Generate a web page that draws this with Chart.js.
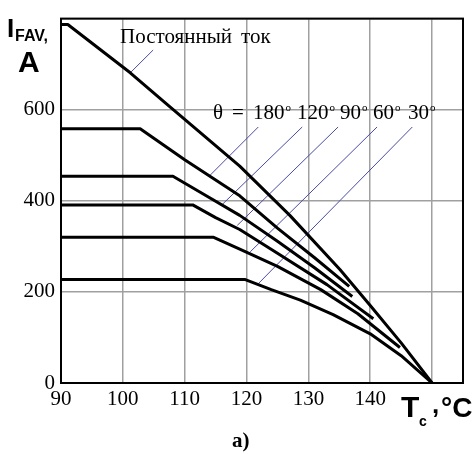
<!DOCTYPE html>
<html>
<head>
<meta charset="utf-8">
<script src="https://cdn.jsdelivr.net/npm/chart.js@4.4.0/dist/chart.umd.min.js"></script>
<style>
    body { margin: 0; background: #fff; }
    canvas { display: block; }
</style>
</head>
<body>
<canvas id="myChart" width="475" height="454"></canvas>
<script>
// case temperature (°C) and average current (A) for each curve
var dcT   = [90, 91.1, 101.2, 107.1, 118.9, 127.0, 135.1, 140, 145, 150];
var dcI   = [787, 787, 681, 612, 476, 368, 249, 170, 88, 0];
var a180T = [90, 102.8, 110, 118.9, 125, 131, 136.6];
var a180I = [558, 558, 490, 411, 340, 275, 212];
var a120T = [90, 108.1, 113, 118.9, 125, 131, 137.1];
var a120I = [454, 454, 415, 368, 311, 253, 190];
var a90T  = [90, 111.3, 115, 118.9, 125, 133, 140.5];
var a90I  = [391, 391, 363, 337, 285, 216, 141];
var a60T  = [90, 114.6, 118.9, 125, 132, 138, 144.8];
var a60I  = [320, 320, 294, 256, 205, 152, 78];
var a30T  = [90, 119.8, 124, 128.7, 134, 140, 145, 150];
var a30I  = [227, 227, 205, 182, 150, 108, 60, 0];

// leader lines from the labels down to the curves
var leaderT = [[104.9, 101.2], [121.9, 114.1], [129.0, 116.0], [134.8, 118.5], [141.1, 120.6], [146.8, 121.9]];
var leaderI = [[731, 681], [562, 456], [562, 391], [562, 346], [562, 288], [562, 218]];

var xTicks = [90, 100, 110, 120, 130, 140, 150];
var xLabels = ["90", "100", "110", "120", "130", "140", ""];
var yTicks = [0, 200, 400, 600, 800];
var yLabels = ["0", "200", "400", "600", ""];

const zip = (xs, ys) => xs.map((x, i) => ({ x: x, y: ys[i] }));

var curves = [[dcT, dcI], [a180T, a180I], [a120T, a120I], [a90T, a90I], [a60T, a60I], [a30T, a30I]];
var datasets = curves.map(c => ({
    data: zip(c[0], c[1]),
    borderColor: "#000",
    borderWidth: 3,
    borderJoinStyle: "round",
    pointRadius: 0,
    showLine: true,
    tension: 0
}));
leaderT.forEach((t, i) => {
    datasets.push({
        data: zip(t, leaderI[i]),
        borderColor: "#4a4aa8",
        borderWidth: 1,
        pointRadius: 0,
        showLine: true
    });
});

const txt = (ctx, s, x, y, font) => {
    ctx.font = font;
    ctx.fillText(s, x, y);
};

const labels = {
    id: "labels",
    afterDraw(chart) {
        const ctx = chart.ctx;
        const a = chart.chartArea;
        ctx.save();
        // frame
        ctx.strokeStyle = "#000";
        ctx.lineWidth = 2;
        ctx.strokeRect(a.left, a.top, a.right - a.left, a.bottom - a.top);

        ctx.fillStyle = "#000";
        ctx.textBaseline = "alphabetic";
        ctx.textAlign = "left";
        const serif = "'Liberation Serif', serif";
        const sans = "'Liberation Sans', Arial, sans-serif";

        txt(ctx, "Постоянный", 120, 43, "21px " + serif);
        txt(ctx, "ток", 241, 43, "21px " + serif);

        txt(ctx, "θ", 213, 119, "21px " + serif);
        txt(ctx, "=", 232, 119, "21px " + serif);
        [["180", 253], ["120", 297], ["90", 340], ["60", 373], ["30", 408]].forEach(p => {
            ctx.font = "21px " + serif;
            ctx.fillText(p[0], p[1], 119);
            const w = ctx.measureText(p[0]).width;
            txt(ctx, "o", p[1] + w + 1, 111, "11px " + serif);
        });

        // axis titles
        txt(ctx, "I", 7, 37, "bold 26px " + sans);
        txt(ctx, "FAV,", 15, 41, "bold 16px " + sans);
        txt(ctx, "A", 18, 72, "bold 30px " + sans);

        txt(ctx, "T", 401, 417, "bold 30px " + sans);
        txt(ctx, "c", 419, 426, "bold 14px " + sans);
        txt(ctx, ",", 432, 413, "bold 26px " + sans);
        txt(ctx, "°C", 441, 417, "bold 28px " + sans);

        txt(ctx, "a)", 232, 447, "bold 21px " + serif);
        ctx.restore();
    }
};

const tickFont = { family: "'Liberation Serif', serif", size: 21 };

new Chart("myChart", {
    type: "scatter",
    data: { datasets: datasets },
    options: {
        responsive: false,
        animation: false,
        layout: { padding: { left: 0, top: 13, right: 12, bottom: 0 } },
        plugins: { legend: { display: false }, tooltip: { enabled: false } },
        scales: {
            x: {
                type: "linear",
                min: 90,
                max: 155,
                afterBuildTicks: s => { s.ticks = xTicks.map(v => ({ value: v })); },
                afterFit: s => { s.height = 71; },
                ticks: {
                    color: "#000",
                    font: tickFont,
                    padding: 4,
                    maxRotation: 0,
                    autoSkip: false,
                    callback: (v, i) => xLabels[i]
                },
                grid: { color: "#a0a0a0", lineWidth: 1.5, drawTicks: false },
                border: { color: "#000", width: 2 }
            },
            y: {
                type: "linear",
                min: 0,
                max: 800,
                afterBuildTicks: s => { s.ticks = yTicks.map(v => ({ value: v })); },
                afterFit: s => { s.width = 61; },
                ticks: {
                    color: "#000",
                    font: tickFont,
                    padding: 6,
                    autoSkip: false,
                    callback: (v, i) => yLabels[i]
                },
                grid: { color: "#a0a0a0", lineWidth: 1.5, drawTicks: false },
                border: { color: "#000", width: 2 }
            }
        }
    },
    plugins: [labels]
});
</script>
</body>
</html>
